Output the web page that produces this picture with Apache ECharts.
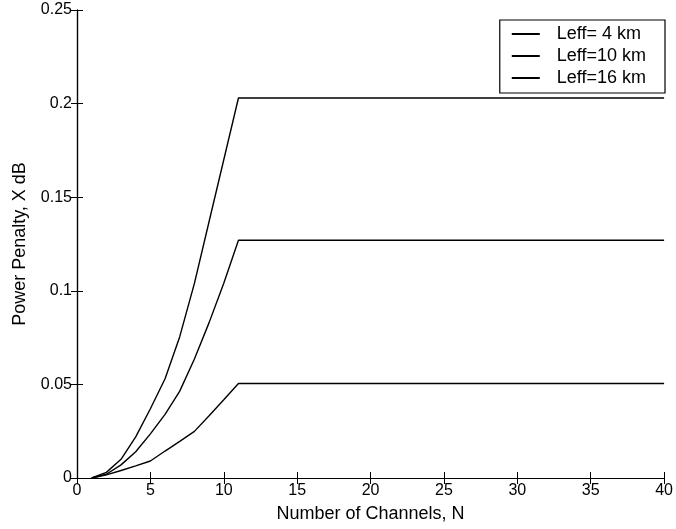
<!DOCTYPE html>
<html>
<head>
<meta charset="utf-8">
<script src="https://cdn.jsdelivr.net/npm/echarts@6/dist/echarts.min.js"></script>
<style>html,body{margin:0;padding:0;background:#fff}#c{width:676px;height:529px}</style>
</head>
<body>
<div id="c"></div>
<script>
var channels = [1, 2, 3, 4, 5, 6, 7, 8, 9, 10, 11, 40];
var leff4  = [0, 0.0017, 0.0040, 0.0065, 0.0091, 0.0144, 0.0196, 0.0249, 0.0333, 0.0418, 0.0505, 0.0505];
var leff10 = [0, 0.0020, 0.0070, 0.0140, 0.0236, 0.0340, 0.0464, 0.0636, 0.0830, 0.1040, 0.1270, 0.1270];
var leff16 = [0, 0.0030, 0.0100, 0.0220, 0.0370, 0.0530, 0.0755, 0.1040, 0.1370, 0.1700, 0.2030, 0.2030];
var seriesNames = ['Leff= 4 km', 'Leff=10 km', 'Leff=16 km'];
var xTicks = [0, 5, 10, 15, 20, 25, 30, 35, 40];
var yTicks = [0, 0.05, 0.1, 0.15, 0.2, 0.25];

function pairs(v) { return channels.map(function (n, i) { return [n, v[i]]; }); }
var FONT = 'Liberation Sans, Arial, sans-serif';
var chart = echarts.init(document.getElementById('c'), null, {renderer: 'canvas'});
var axisLine = {show: true, lineStyle: {color: '#000', width: 1.2}};
var tick = {show: true, inside: true, length: 6, lineStyle: {color: '#000'}};
var lbl = {color: '#000', fontSize: 16, fontFamily: FONT};
chart.setOption({
  animation: false,
  backgroundColor: '#fff',
  grid: {left: 77, right: 9, top: 10, bottom: 51, containLabel: false},
  legend: {
    data: seriesNames, orient: 'vertical', right: 11, top: 20,
    backgroundColor: '#fff', borderColor: '#000', borderWidth: 1.2,
    padding: [5, 19, 6, 12], itemGap: 4, itemWidth: 28, itemHeight: 2,
    icon: 'rect',
    textStyle: {color: '#000', fontSize: 18, fontFamily: FONT, padding: [0, 0, 0, 12]}
  },
  xAxis: [{
    type: 'value', min: xTicks[0], max: xTicks[xTicks.length - 1], interval: 5,
    name: 'Number of Channels, N', nameLocation: 'middle', nameGap: 27,
    nameTextStyle: {color: '#000', fontSize: 18, fontFamily: FONT, verticalAlign: 'top'},
    axisLine: axisLine, axisTick: tick, splitLine: {show: false},
    axisLabel: Object.assign({margin: 5}, lbl)
  }, {
    type: 'value', position: 'top', min: 0, max: 40, interval: 5,
    axisLine: axisLine, axisTick: tick, splitLine: {show: false}, axisLabel: {show: false}
  }],
  yAxis: [{
    type: 'value', min: yTicks[0], max: yTicks[yTicks.length - 1], interval: 0.05,
    name: 'Power Penalty, X dB', nameLocation: 'middle', nameGap: 48, nameRotate: 90,
    nameTextStyle: {color: '#000', fontSize: 18, fontFamily: FONT},
    axisLine: axisLine, axisTick: tick, splitLine: {show: false},
    axisLabel: Object.assign({margin: 5}, lbl)
  }, {
    type: 'value', position: 'right', min: 0, max: 0.25, interval: 0.05,
    axisLine: axisLine, axisTick: tick, splitLine: {show: false}, axisLabel: {show: false}
  }],
  series: [leff4, leff10, leff16].map(function (v, i) {
    return {
      name: seriesNames[i], type: 'line', data: pairs(v), symbol: 'none',
      lineStyle: {color: '#000', width: 1.4}, itemStyle: {color: '#000'}
    };
  })
});
</script>
</body>
</html>
